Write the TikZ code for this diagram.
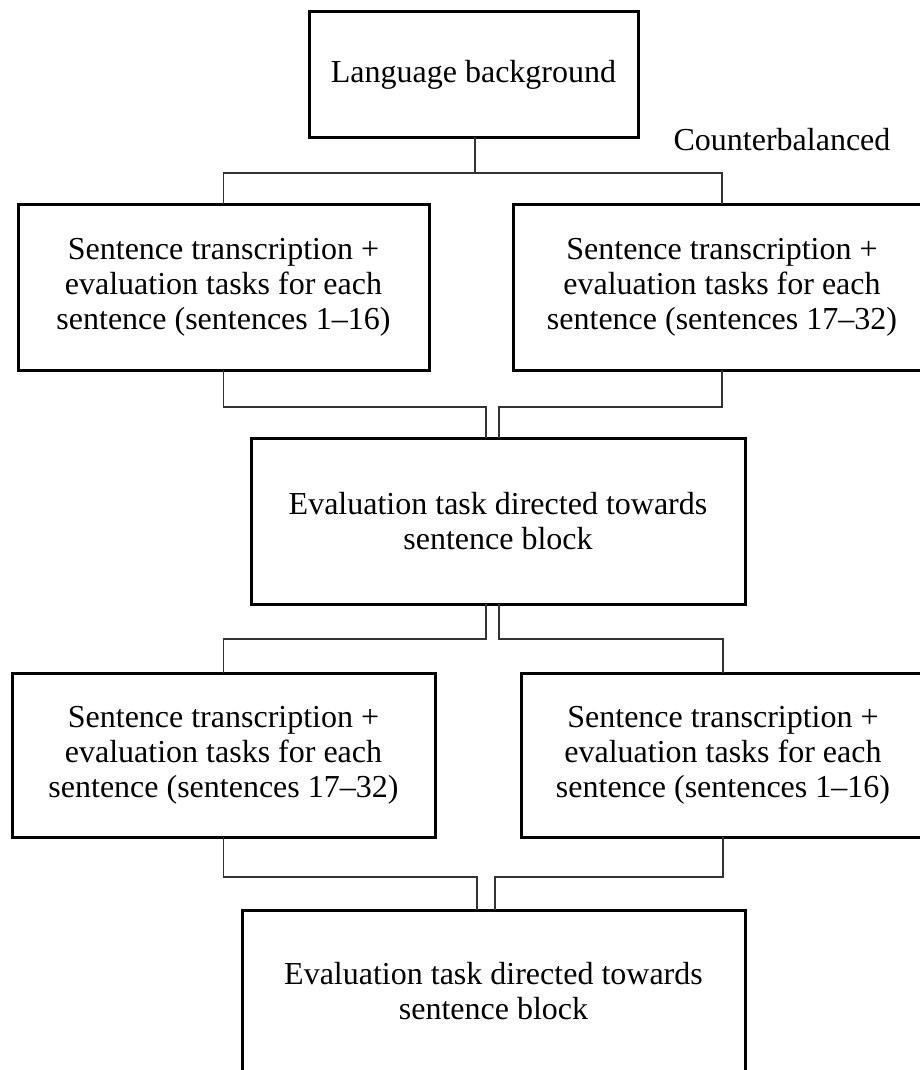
\documentclass[tikz,border=0pt]{standalone}
\usepackage{fontspec}
\setmainfont{Liberation Serif}
\usepackage{tikz}

\begin{document}
\begin{tikzpicture}
[x=1pt, y=-1pt,
 box/.style ={rectangle, draw=black, line width=3pt, align=center, inner sep=0pt, outer sep=0pt, font=\fontsize{32}{35}\selectfont},
 note/.style ={align=center, inner sep=0pt, font=\fontsize{32}{35}\selectfont},
 line/.style ={draw, line width=1.5pt, black!80}]
\useasboundingbox (0,0) rectangle (919,1070);
\draw (473.5, 74.5) node[box, minimum width=329, minimum height=125] (lang) {Language background};
\draw (782, 140) node[note] (cb) {Counterbalanced};
\draw (223.5, 287) node[box, minimum width=411, minimum height=166] (s1) {Sentence transcription +\\evaluation tasks for each\\sentence (sentences 1--16)};
\draw (722, 287) node[box, minimum width=418, minimum height=166] (s2) {Sentence transcription +\\evaluation tasks for each\\sentence (sentences 17--32)};
\draw (498, 521) node[box, minimum width=494, minimum height=166] (ev1) {Evaluation task directed towards\\sentence block};
\draw (223.5, 755) node[box, minimum width=423, minimum height=164] (s3) {Sentence transcription +\\evaluation tasks for each\\sentence (sentences 17--32)};
\draw (723, 755) node[box, minimum width=404, minimum height=164] (s4) {Sentence transcription +\\evaluation tasks for each\\sentence (sentences 1--16)};
\draw (493.5, 991) node[box, minimum width=503, minimum height=162] (ev2) {Evaluation task directed towards\\sentence block};
% joints
\coordinate (j0) at (475, 173);
\coordinate (j1) at (486, 407);
\coordinate (j2) at (499, 407);
\coordinate (j3) at (486, 639);
\coordinate (j4) at (499, 639);
\coordinate (j5) at (477, 877);
\coordinate (j6) at (495, 877);
\draw[line] (j0 |- lang.south) -- (j0);
\draw[line] (s1.north) |- (j0) -| (s2.north);
\draw[line] (s1.south) |- (j1) -- (j1 |- ev1.north);
\draw[line] (s2.south) |- (j2) -- (j2 |- ev1.north);
\draw[line] (j3 |- ev1.south) -- (j3) -| (s3.north);
\draw[line] (j4 |- ev1.south) -- (j4) -| (s4.north);
\draw[line] (s3.south) |- (j5) -- (j5 |- ev2.north);
\draw[line] (s4.south) |- (j6) -- (j6 |- ev2.north);
\end{tikzpicture}
\end{document}
